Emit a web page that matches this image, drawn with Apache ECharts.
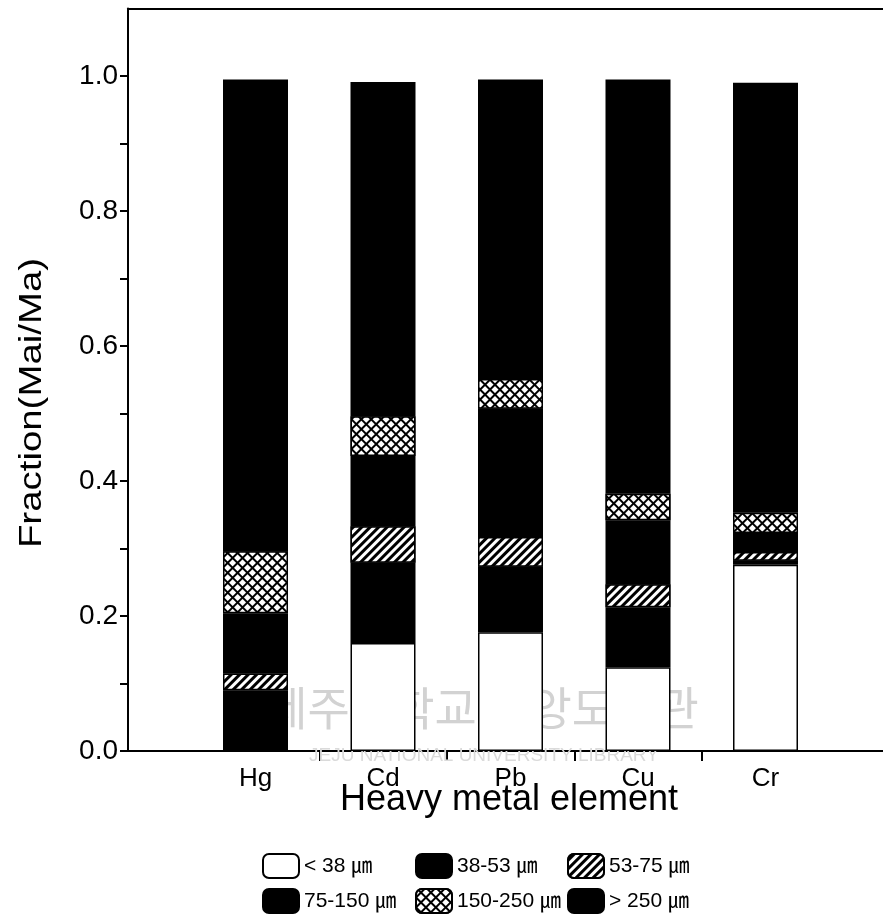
<!DOCTYPE html>
<html>
<head>
<meta charset="utf-8">
<script src="https://cdn.jsdelivr.net/npm/echarts@6/dist/echarts.min.js"></script>
<style>html,body{margin:0;padding:0;background:#fff}#c{width:883px;height:919px}</style>
</head>
<body>
<div id="c"></div>
<script>
const categories = ['Hg', 'Cd', 'Pb', 'Cu', 'Cr'];
const sizeNames = ['< 38 ㎛', '38-53 ㎛', '53-75 ㎛', '75-150 ㎛', '150-250 ㎛', '> 250 ㎛'];
const lt38   = [0.000, 0.160, 0.176, 0.124, 0.276];
const s38_53 = [0.090, 0.119, 0.097, 0.089, 0.006];
const s53_75 = [0.025, 0.054, 0.044, 0.034, 0.013];
const s75_150 = [0.089, 0.104, 0.190, 0.095, 0.028];
const s150_250 = [0.092, 0.059, 0.044, 0.039, 0.030];
const gt250  = [0.699, 0.495, 0.444, 0.614, 0.637];
const yTickLabels = [0, 0.2, 0.4, 0.6, 0.8, 1.0];
const yTicks = [0, 0.1, 0.2, 0.3, 0.4, 0.5, 0.6, 0.7, 0.8, 0.9, 1.0];
const xDividerTicks = [1.5, 2.5, 3.5, 4.5];

const FONT = "'Liberation Sans', Arial, 'Noto Sans CJK KR', sans-serif";
const seriesValues = [lt38, s38_53, s53_75, s75_150, s150_250, gt250];

const hatch = {symbol: 'rect', symbolSize: 1, dashArrayX: [1, 0], dashArrayY: [3, 3], rotation: -Math.PI / 4, color: '#fff', backgroundColor: '#000'};
const cross = {symbol: 'rect', symbolSize: 1, dashArrayX: [5, 2], dashArrayY: [5, 2], rotation: Math.PI / 4, color: '#fff', backgroundColor: '#000'};
const styles = [
  {color: '#fff'},
  {color: '#000'},
  {color: '#000', decal: hatch},
  {color: '#000'},
  {color: '#000', decal: cross},
  {color: '#000'}
];

const series = seriesValues.map((vals, k) => ({
  name: sizeNames[k],
  type: 'bar',
  stack: 'total',
  barWidth: 65,
  xAxisIndex: 0,
  yAxisIndex: 0,
  data: vals,
  itemStyle: Object.assign({borderColor: '#000', borderWidth: 1.5}, styles[k]),
  emphasis: {disabled: true}
}));

const legendPos = [[262, 853], [415, 853], [567, 853], [262, 888], [415, 888], [567, 888]];
const legends = sizeNames.map((n, k) => ({
  data: [n],
  left: legendPos[k][0],
  top: legendPos[k][1],
  padding: 0,
  itemWidth: 36,
  itemHeight: 24,
  icon: 'roundRect',
  selectedMode: false,
  textStyle: {fontSize: 21, fontFamily: FONT, color: '#000'}
}));

// slot width in px = 127.5 ; frame from x=128 to 883
const chart = echarts.init(document.getElementById('c'), null, {renderer: 'canvas'});
chart.setOption({
  animation: false,
  backgroundColor: '#fff',
  grid: [
    {left: 191.75, right: 53.75, top: 8.5, bottom: 168, containLabel: false},
    {left: 128, right: 0, top: 8.5, bottom: 168, containLabel: false}
  ],
  legend: legends,
  xAxis: [{
    type: 'category', data: categories, gridIndex: 0, position: 'bottom',
    axisLine: {show: false}, axisTick: {show: false},
    axisLabel: {fontSize: 26, fontFamily: FONT, color: '#000', margin: 15},
    splitLine: {show: false}
  }, {
    type: 'value', min: 0, max: 5.92, gridIndex: 1, position: 'bottom',
    axisLine: {show: true, lineStyle: {color: '#000', width: 2}},
    axisTick: {show: true, customValues: xDividerTicks, length: 10, lineStyle: {color: '#000', width: 2}},
    axisLabel: {show: false}, splitLine: {show: false}
  }, {
    type: 'value', min: 0, max: 5.92, gridIndex: 1, position: 'top',
    axisLine: {show: true, lineStyle: {color: '#000', width: 2}},
    axisTick: {show: false}, axisLabel: {show: false}, splitLine: {show: false}
  }],
  yAxis: [{
    type: 'value', min: 0, max: 1.1, gridIndex: 0, show: false
  }, {
    type: 'value', min: 0, max: 1.1, gridIndex: 1,
    axisLine: {show: true, lineStyle: {color: '#000', width: 2}},
    axisTick: {show: true, customValues: yTicks, length: 8, lineStyle: {color: '#000', width: 2}},
    axisLabel: {show: true, customValues: yTickLabels, formatter: v => v.toFixed(1), fontSize: 28, fontFamily: FONT, color: '#000', margin: 10},
    splitLine: {show: false}
  }],
  graphic: [
    {type: 'text', z: 100, x: 509, y: 800, style: {text: 'Heavy metal element', font: '36px ' + FONT, fill: '#000', textAlign: 'center', textVerticalAlign: 'middle'}},
    {type: 'text', z: 100, x: 32, y: 403, rotation: Math.PI / 2, scaleX: 1.2, style: {text: 'Fraction(Mai/Ma)', font: '32px ' + FONT, fill: '#000', textAlign: 'center', textVerticalAlign: 'middle'}},
    {type: 'text', z: 1, x: 482, y: 708, style: {text: '제주대학교 중앙도서관', font: '46px "Noto Sans CJK KR"', fill: '#d2d2d2', textAlign: 'center', textVerticalAlign: 'middle'}},
    {type: 'text', z: 1, x: 484, y: 756, style: {text: 'JEJU NATIONAL UNIVERSITY LIBRARY', font: '19px ' + FONT, fill: '#dadada', textAlign: 'center', textVerticalAlign: 'middle'}}
  ],
  series: series
});
</script>
</body>
</html>
